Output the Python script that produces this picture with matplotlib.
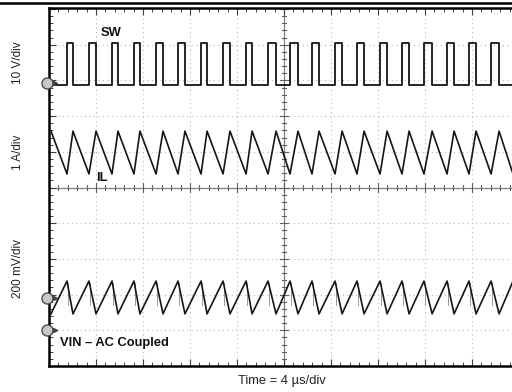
import numpy as np
import matplotlib
matplotlib.use("Agg")
import matplotlib.pyplot as plt
from matplotlib.lines import Line2D

plt.rcParams["font.family"] = ["Liberation Sans", "DejaVu Sans"]

# Switching edges (time in us from left edge of graticule)
sw_rise_us = [1.53, 3.40, 5.36, 7.23, 9.11, 10.98, 12.94, 14.81, 16.77,
              18.64, 20.51, 22.38, 24.34, 26.21, 28.17, 30.04, 31.91,
              33.87, 35.74, 37.62, 39.49]
sw_fall_us = [0.17, 2.04, 4.00, 5.87, 7.74, 9.70, 11.57, 13.45, 15.40,
              17.28, 19.32, 21.19, 22.98, 24.94, 26.81, 28.77, 30.64,
              32.60, 34.47, 36.34, 38.30, 40.17]

# Trace levels in screen divisions (0 = bottom of graticule)
sw_low, sw_high = 7.87, 9.05
il_peak, il_valley = 6.58, 5.38
vin_peak, vin_valley = 2.38, 1.46
gnd_markers = [7.93, 1.90, 1.00]

US_PER_DIV = 4.0
X_MAX = 39.4

# build traces from the edge times
sw_t, sw_v = [0.0], [sw_low]
for r, f in zip(sw_rise_us, sw_fall_us[1:]):
    sw_t += [r, r, f, f]
    sw_v += [sw_low, sw_high, sw_high, sw_low]

events = sorted([(t, "f") for t in sw_fall_us] + [(t, "r") for t in sw_rise_us])
il_t = [t for t, _ in events]
il_v = [il_peak if k == "f" else il_valley for _, k in events]
vin_v = [vin_valley if k == "f" else vin_peak for _, k in events]

fig = plt.figure(figsize=(5.12, 3.92), dpi=100)
ax = fig.add_axes([49 / 512, 26 / 392, 463 / 512, 358 / 392])
ax.set_xlim(0, X_MAX)
ax.set_ylim(0, 10.03)

# graticule
for x in np.arange(US_PER_DIV, X_MAX, US_PER_DIV):
    if abs(x - 20) > 0.01:
        ax.axvline(x, color="#b8b8b8", lw=0.8, ls=(0, (1, 3)), zorder=1)
for y in range(1, 10):
    if y != 5:
        ax.axhline(y, color="#b8b8b8", lw=0.8, ls=(0, (1, 3)), zorder=1)
ax.axvline(20, color="#808080", lw=0.9, zorder=1)
ax.axhline(5, color="#808080", lw=0.9, zorder=1)

# minor ticks on centre lines
for x in np.arange(0, X_MAX, US_PER_DIV / 5):
    h = 0.12 if abs(x / US_PER_DIV - round(x / US_PER_DIV)) < 0.01 else 0.07
    ax.plot([x, x], [5 - h, 5 + h], color="#606060", lw=0.8, zorder=1)
for y in np.arange(0, 10.01, 0.2):
    w = 0.35 if abs(y - round(y)) < 0.01 else 0.2
    ax.plot([20 - w, 20 + w], [y, y], color="#606060", lw=0.8, zorder=1)

ax.set_xticks(np.arange(0, X_MAX, US_PER_DIV))
ax.set_xticks(np.arange(0, X_MAX, US_PER_DIV / 5), minor=True)
ax.set_yticks(np.arange(0, 11, 1))
ax.set_yticks(np.arange(0, 10.01, 0.2), minor=True)
ax.tick_params(which="both", direction="in", top=True, right=False,
               labelbottom=False, labelleft=False, color="#404040")
ax.tick_params(which="major", length=5, width=0.8)
ax.tick_params(which="minor", length=3, width=0.7)
for s in ["left", "bottom", "top"]:
    ax.spines[s].set_linewidth(1.8)
ax.spines["right"].set_visible(False)

# traces
ax.plot(sw_t, sw_v, color="#151515", lw=1.3, zorder=3)
ax.plot(il_t, il_v, color="#151515", lw=1.2, zorder=3)
ax.plot(il_t, vin_v, color="#151515", lw=1.2, zorder=3)
for r in sw_rise_us:
    ax.plot([r + 0.05, r + 0.05], [vin_valley + 0.25, vin_peak - 0.05],
            color="#9a9a9a", lw=0.7, zorder=2)

# ground markers
for g in gnd_markers:
    ax.plot(-0.2, g, marker="o", ms=8, mfc="#c8c8c8", mec="#404040",
            mew=0.9, clip_on=False, zorder=5)
    ax.plot(0.55, g, marker=">", ms=3, color="#404040", clip_on=False, zorder=5)

# labels
bold = dict(fontsize=9.3, fontweight="bold", color="#111111")
ax.text(4.4, 9.33, "SW", ha="left", va="center", **bold)
ax.text(4.0, 5.27, "IL", ha="left", va="center", **bold)
ax.text(0.95, 0.65, "VIN \u2013 AC Coupled", ha="left", va="center", **bold)

lab = dict(fontsize=8.5, rotation=90, ha="center", va="center", color="#222222")
fig.text(18 / 512, 1 - 63 / 392, "10 V/div", **lab)
fig.text(18 / 512, 1 - 152 / 392, "1 A/div", **lab)
fig.text(18 / 512, 1 - 268 / 392, "200 mV/div", **lab)
fig.text(282 / 512, 1 - 381 / 392, "Time = 4 \u00b5s/div", fontsize=9.3,
         ha="center", va="center", color="#222222")

fig.add_artist(Line2D([0, 1], [1 - 3 / 392, 1 - 3 / 392], color="black",
                      lw=1.8, transform=fig.transFigure))

fig.savefig("out.png", dpi=100)
